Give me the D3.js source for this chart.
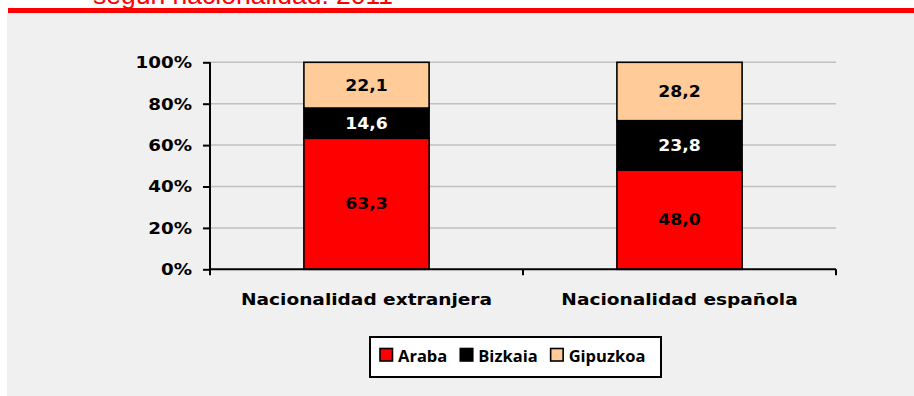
<!DOCTYPE html>
<html>
<head>
<meta charset="utf-8">
<script src="https://cdn.jsdelivr.net/npm/d3@7/dist/d3.min.js"></script>
<style>
  html, body { margin: 0; padding: 0; background: #ffffff; }
  svg { display: block; }
</style>
</head>
<body>
<svg id="chart" width="914" height="396"></svg>
<script>
// Population by province of residence, by nationality (2011), in %
const categories = ["Nacionalidad extranjera", "Nacionalidad española"];
const provinces = ["Araba", "Bizkaia", "Gipuzkoa"];
const araba = [63.3, 48.0];
const bizkaia = [14.6, 23.8];
const gipuzkoa = [22.1, 28.2];
const yTicks = [0, 20, 40, 60, 80, 100];
const titleText = "según nacionalidad. 2011";

const seriesValues = [araba, bizkaia, gipuzkoa];
const fills = ["#ff0000", "#000000", "#ffcc99"];
const labelColors = ["#000000", "#ffffff", "#000000"];

const svg = d3.select("#chart");
const numFont = "'DejaVu Sans', Verdana, sans-serif";

// Title (partially above the frame) and red rule
svg.append("text")
  .attr("x", 93).attr("y", 4)
  .attr("font-family", "'Liberation Sans', Arial, sans-serif")
  .attr("font-size", 26.5)
  .attr("fill", "#ff0000")
  .text(titleText);

svg.append("rect")
  .attr("x", 7).attr("y", 13).attr("width", 907).attr("height", 383)
  .attr("fill", "#f0f0f0");
svg.append("rect")
  .attr("x", 8).attr("y", 8).attr("width", 906).attr("height", 5)
  .attr("fill", "#ff0000");

// Scales
const x = d3.scaleBand().domain(categories).range([210, 836])
  .paddingInner(0.6).paddingOuter(0.3);
const y = d3.scaleLinear().domain([0, 100]).range([269.3, 62.3]);

// Gridlines
svg.append("g").selectAll("line")
  .data(yTicks.filter(d => d > 0))
  .join("line")
  .attr("x1", 210).attr("x2", 836)
  .attr("y1", d => y(d)).attr("y2", d => y(d))
  .attr("stroke", "#c0c0c0").attr("stroke-width", 1.5);

// Stacked data
const rows = categories.map((c, i) => {
  const r = { cat: c };
  provinces.forEach((p, k) => r[p] = seriesValues[k][i]);
  return r;
});
const stacked = d3.stack().keys(provinces)(rows);
const fmt = v => d3.format(".1f")(v).replace(".", ",");

const layers = svg.append("g").selectAll("g")
  .data(stacked).join("g")
  .attr("fill", (d, k) => fills[k]);

layers.selectAll("rect")
  .data(d => d)
  .join("rect")
  .attr("x", d => x(d.data.cat))
  .attr("width", x.bandwidth())
  .attr("y", d => y(d[1]))
  .attr("height", d => y(d[0]) - y(d[1]))
  .attr("stroke", "#000").attr("stroke-width", 1.6);

// Segment value labels
stacked.forEach((layer, k) => {
  svg.append("g").selectAll("text")
    .data(layer).join("text")
    .attr("transform", d => `translate(${x(d.data.cat) + x.bandwidth() / 2},${y((d[0] + d[1]) / 2)}) scale(1.15,1)`)
    .attr("text-anchor", "middle")
    .attr("dy", "0.36em")
    .attr("font-family", numFont)
    .attr("font-weight", "bold")
    .attr("font-size", 15)
    .attr("fill", labelColors[k])
    .text(d => fmt(d[1] - d[0]));
});

// Y axis
const yAxis = svg.append("g")
  .attr("transform", "translate(210,0)")
  .call(d3.axisLeft(y).tickValues(yTicks).tickFormat(d => d + "%").tickSize(7).tickSizeOuter(0));
yAxis.select(".domain").attr("stroke", "#000").attr("stroke-width", 2)
  .attr("d", `M0,${y(100)}V${y(0) + 6}`);
yAxis.selectAll(".tick line").attr("stroke", "#000").attr("stroke-width", 2);
yAxis.selectAll(".tick text")
  .attr("x", null).attr("dy", "0.36em")
  .attr("transform", "translate(-18,0) scale(1.22,1)")
  .attr("font-family", numFont)
  .attr("font-weight", "bold")
  .attr("font-size", 15)
  .attr("fill", "#000");

// X axis
const xAxisG = svg.append("g");
xAxisG.append("line")
  .attr("x1", 210).attr("x2", 836)
  .attr("y1", y(0)).attr("y2", y(0))
  .attr("stroke", "#000").attr("stroke-width", 2);
const bounds = [x.range()[0], (x.range()[0] + x.range()[1]) / 2, x.range()[1]];
xAxisG.selectAll("line.tk")
  .data(bounds.slice(1)).join("line")
  .attr("class", "tk")
  .attr("x1", d => d).attr("x2", d => d)
  .attr("y1", y(0)).attr("y2", y(0) + 6)
  .attr("stroke", "#000").attr("stroke-width", 2);
xAxisG.selectAll("text")
  .data(categories).join("text")
  .attr("transform", d => `translate(${x(d) + x.bandwidth() / 2},305) scale(1.16,1)`)
  .attr("text-anchor", "middle")
  .attr("font-family", numFont)
  .attr("font-weight", "bold")
  .attr("font-size", 16)
  .attr("fill", "#000")
  .text(d => d);

// Legend
const legend = svg.append("g");
legend.append("rect")
  .attr("x", 370).attr("y", 337).attr("width", 291).attr("height", 40)
  .attr("fill", "#ffffff").attr("stroke", "#000").attr("stroke-width", 2);
let lx = 380;
provinces.forEach((p, k) => {
  legend.append("rect")
    .attr("x", lx).attr("y", 348.5).attr("width", 12.5).attr("height", 12.5)
    .attr("fill", fills[k]).attr("stroke", "#000").attr("stroke-width", 1.6);
  const t = legend.append("text")
    .attr("x", lx + 18).attr("y", 362)
    .attr("font-family", "'Open Sans', sans-serif")
    .attr("font-weight", "bold")
    .attr("font-size", 16.5)
    .attr("fill", "#000")
    .text(p);
  lx += 18 + t.node().getComputedTextLength() + 13;
});
</script>
</body>
</html>
